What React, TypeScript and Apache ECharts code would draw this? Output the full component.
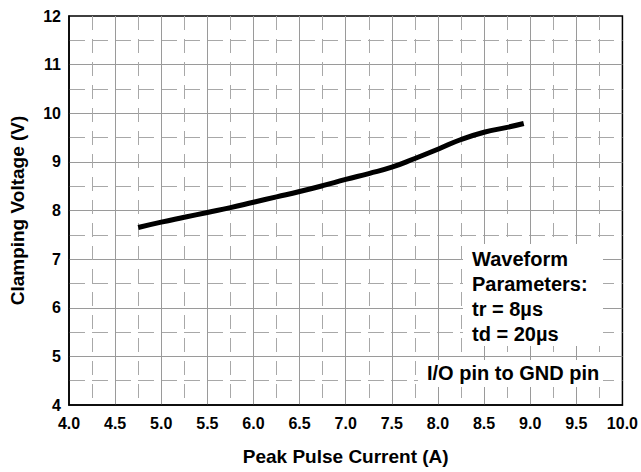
import React, { useEffect, useRef } from "react";
import * as echarts from "echarts";

const currentA = [4.75, 5.0, 5.25, 5.5, 5.75, 6.0, 6.25, 6.5, 6.75, 7.0, 7.25, 7.5, 7.75, 8.0, 8.25, 8.5, 8.75, 8.93];
const clampV = [7.65, 7.76, 7.86, 7.96, 8.06, 8.17, 8.28, 8.39, 8.51, 8.64, 8.76, 8.89, 9.07, 9.26, 9.46, 9.61, 9.71, 9.79];
const noteLines = ["Waveform", "Parameters:", "tr = 8µs", "td = 20µs"];
const pinNote = "I/O pin to GND pin";
const xName = "Peak Pulse Current (A)";
const yName = "Clamping Voltage (V)";

const FONT = "'Liberation Sans', Arial, Helvetica, sans-serif";

export default function App() {
  const ref = useRef<HTMLDivElement>(null);
  useEffect(() => {
    document.body.style.margin = "0";
    if (!ref.current) return;
    const chart = echarts.init(ref.current, undefined, { renderer: "svg" });
    const data = currentA.map((x, i) => [x, clampV[i]]);
    const textStyleBase = { fontFamily: FONT, fontWeight: "bold" as const, fill: "#000" };
    chart.setOption({
      animation: false,
      backgroundColor: "#fff",
      grid: {
        left: 69,
        right: 18,
        top: 16,
        bottom: 67,
        show: true,
        borderColor: "#000",
        borderWidth: 1.5,
        backgroundColor: "transparent",
      },
      xAxis: {
        type: "value",
        min: 4,
        max: 10,
        interval: 0.5,
        name: xName,
        nameLocation: "middle",
        nameGap: 42,
        nameTextStyle: { fontFamily: FONT, fontWeight: "bold", fontSize: 19, color: "#000" },
        axisLine: { show: true, lineStyle: { color: "#000", width: 1.5 } },
        axisTick: { show: false },
        axisLabel: {
          fontFamily: FONT,
          fontWeight: "bold",
          fontSize: 16,
          color: "#000",
          margin: 10,
          formatter: (v: number) => v.toFixed(1),
        },
        splitLine: { show: true, showMinLine: false, showMaxLine: false, lineStyle: { color: "#9a9a9a", width: 1 } },
        minorTick: { show: false, splitNumber: 2 },
        minorSplitLine: { show: true, lineStyle: { color: "#a8a8a8", width: 1, type: [14, 9] } },
      },
      yAxis: {
        type: "value",
        min: 4,
        max: 12,
        interval: 1,
        name: yName,
        nameLocation: "middle",
        nameGap: 42,
        nameRotate: 90,
        nameTextStyle: { fontFamily: FONT, fontWeight: "bold", fontSize: 19, color: "#000" },
        axisLine: { show: true, lineStyle: { color: "#000", width: 1.5 } },
        axisTick: { show: false },
        axisLabel: { fontFamily: FONT, fontWeight: "bold", fontSize: 16, color: "#000", margin: 8 },
        splitLine: { show: true, showMinLine: false, showMaxLine: false, lineStyle: { color: "#9a9a9a", width: 1 } },
        minorTick: { show: false, splitNumber: 2 },
        minorSplitLine: { show: true, lineStyle: { color: "#a8a8a8", width: 1, type: [16, 7] } },
      },
      series: [
        {
          type: "line",
          data,
          smooth: true,
          symbol: "none",
          lineStyle: { color: "#000", width: 5 },
          z: 3,
        },
      ],
      graphic: [
        { type: "rect", shape: { x: 463, y: 244, width: 140, height: 102 }, style: { fill: "#fff" }, z: 10 },
        ...noteLines.map((t, i) => ({
          type: "text",
          x: 472,
          y: 259 + i * 25,
          style: { ...textStyleBase, text: t, fontSize: 20, textVerticalAlign: "middle", verticalAlign: "middle" },
          z: 11,
        })),
        { type: "rect", shape: { x: 418, y: 360, width: 185, height: 27 }, style: { fill: "#fff" }, z: 10 },
        {
          type: "text",
          x: 427,
          y: 373,
          style: { ...textStyleBase, text: pinNote, fontSize: 20, textVerticalAlign: "middle", verticalAlign: "middle" },
          z: 11,
        },
      ],
    });
    return () => chart.dispose();
  }, []);
  return <div ref={ref} style={{ width: 641, height: 472 }} />;
}
